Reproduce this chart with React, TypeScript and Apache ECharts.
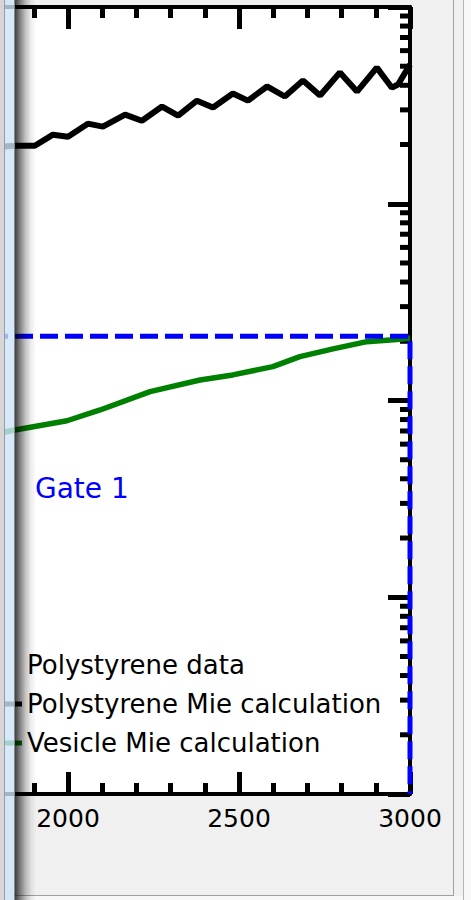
import React, { useEffect, useRef } from "react";
import * as echarts from "echarts";

// Polystyrene Mie calculation (black, oscillating)
const polyMieX = [1800, 1845, 1903, 1956, 2000, 2058, 2102, 2167, 2216, 2275, 2322, 2377, 2424, 2482, 2526, 2582, 2634, 2687, 2737, 2795, 2845, 2903, 2947, 2965, 3000];
const polyMieY = [1950, 1972, 1972, 2244, 2193, 2553, 2466, 2838, 2642, 3119, 2805, 3342, 3083, 3631, 3342, 3945, 3508, 4227, 3548, 4645, 3715, 4920, 3890, 4036, 5093];

// Vesicle Mie calculation (green)
const vesicleX = [1800, 1845, 1997, 2094, 2240, 2386, 2482, 2599, 2678, 2775, 2874, 2971, 3000];
const vesicleY = [68.4, 70.8, 78.9, 89.5, 110.9, 127.1, 134.9, 148.6, 167.1, 182.9, 199.1, 204.9, 208];

// Polystyrene measurements: none fall inside this window
const polyDataX: number[] = [];
const polyDataY: number[] = [];

// Gate 1 threshold and its right-hand limit
const gateLevel = 212;
const gateX = 3000;

// Axis ranges
const xMin = 1500;
const xMax = 3000;
const xStep = 500;
const xFirstLabel = 2000;
const yMin = 1;
const yMax = 10000;
const decades = [1, 10, 100, 1000];
const minorMultipliers = [2, 3, 4, 5, 6, 7, 8, 9];

const legendNames = ["Polystyrene data", "Polystyrene Mie calculation", "Vesicle Mie calculation"];

const S = 103; // part of the chart that sits left of the visible window
const W = 471 + S;
const H = 900;
const FONT = "DejaVu Sans";

export default function App() {
  const ref = useRef<HTMLDivElement>(null);

  useEffect(() => {
    if (!ref.current) return;
    const chart = echarts.init(ref.current, undefined, { renderer: "svg" });
    const vx = (x: number) => x + S;
    const minorTickValues = decades.flatMap((d) => minorMultipliers.map((k) => k * d));

    const xAxisBase = {
      type: "value",
      min: xMin,
      max: xMax,
      interval: xStep,
      axisLine: { show: true, onZero: false, lineStyle: { color: "#000", width: 4 } },
      axisTick: { show: true, inside: true, length: 22, lineStyle: { color: "#000", width: 5 } },
      minorTick: { show: true, splitNumber: 5, length: 11, lineStyle: { color: "#000", width: 5 } },
      splitLine: { show: false },
      minorSplitLine: { show: false },
    };

    const option: any = {
      animation: false,
      backgroundColor: "#f0f0f0",
      grid: {
        left: 0,
        right: W - (410 + S),
        top: 7,
        bottom: H - 794,
        containLabel: false,
        outerBoundsMode: "none",
        show: true,
        backgroundColor: "#ffffff",
        borderWidth: 0,
      },
      xAxis: [
        {
          ...xAxisBase,
          position: "bottom",
          axisLabel: {
            show: true,
            fontFamily: FONT,
            fontSize: 25,
            color: "#000",
            margin: 12,
            formatter: (v: number) => (v < xFirstLabel ? "" : String(v)),
          },
        },
        {
          ...xAxisBase,
          position: "top",
          axisLabel: { show: false },
        },
      ],
      yAxis: {
        type: "log",
        logBase: 10,
        min: yMin,
        max: yMax,
        position: "right",
        axisLine: { show: true, onZero: false, lineStyle: { color: "#000", width: 4 } },
        axisTick: { show: true, inside: true, length: 22, lineStyle: { color: "#000", width: 5 } },
        axisLabel: { show: false },
        splitLine: { show: false },
      },
      legend: {
        orient: "vertical",
        left: S - 8,
        top: 652,
        padding: 0,
        itemWidth: 30,
        itemHeight: 5,
        itemGap: 13,
        selectedMode: false,
        textStyle: { fontFamily: FONT, fontSize: 26, color: "#000" },
        data: [
          { name: legendNames[0], icon: "rect", itemStyle: { opacity: 0 } },
          { name: legendNames[1], icon: "rect" },
          { name: legendNames[2], icon: "rect" },
        ],
      },
      series: [
        {
          name: legendNames[0],
          type: "scatter",
          data: polyDataX.map((x, i) => [x, polyDataY[i]]),
          itemStyle: { color: "#000" },
        },
        {
          name: "logMinorTicks",
          type: "custom",
          silent: true,
          clip: false,
          data: minorTickValues.map((v) => [xMax, v]),
          renderItem: (_params: any, api: any) => {
            const p = api.coord([api.value(0), api.value(1)]);
            return {
              type: "line",
              shape: { x1: p[0] - 10, y1: p[1], x2: p[0], y2: p[1] },
              style: { stroke: "#000", lineWidth: 5 },
            };
          },
        },
        {
          name: legendNames[2],
          type: "line",
          symbol: "none",
          data: vesicleX.map((x, i) => [x, vesicleY[i]]),
          lineStyle: { color: "#008000", width: 5.5 },
          itemStyle: { color: "#008000" },
        },
        {
          name: legendNames[1],
          type: "line",
          symbol: "none",
          data: polyMieX.map((x, i) => [x, polyMieY[i]]),
          lineStyle: { color: "#000", width: 6 },
          itemStyle: { color: "#000" },
        },
        {
          name: "Gate 1",
          type: "line",
          symbol: "none",
          clip: false,
          data: [
            [xMin, gateLevel],
            [gateX, gateLevel],
            [gateX, yMin],
          ],
          lineStyle: { color: "#0000ff", width: 5, type: [18, 7], dashOffset: 7 },
          itemStyle: { color: "#0000ff" },
        },
      ],
      graphic: [
        {
          type: "text",
          x: vx(35),
          y: 488,
          z: 50,
          style: { text: "Gate 1", fontFamily: FONT, fontSize: 28, fill: "#0000ff", verticalAlign: "middle" },
        },
        // window frame on the right and bottom
        { type: "rect", z: 100, shape: { x: vx(453), y: 0, width: 1, height: 896 }, style: { fill: "#a0a0a0" } },
        { type: "rect", z: 100, shape: { x: vx(463), y: 0, width: 1, height: 900 }, style: { fill: "#b4b4b4" } },
        { type: "rect", z: 100, shape: { x: vx(464), y: 0, width: 7, height: 900 }, style: { fill: "#f8f8f8" } },
        { type: "rect", z: 100, shape: { x: vx(15), y: 895, width: 439, height: 1 }, style: { fill: "#a0a0a0" } },
        { type: "rect", z: 100, shape: { x: vx(15), y: 896, width: 448, height: 4 }, style: { fill: "#f8f8f8" } },
        // window frame on the left
        { type: "rect", z: 100, shape: { x: vx(0), y: 0, width: 4, height: 900 }, style: { fill: "#d6d6d6" } },
        { type: "rect", z: 100, shape: { x: vx(4), y: 0, width: 1, height: 900 }, style: { fill: "#9c9c9c" } },
        { type: "rect", z: 100, shape: { x: vx(5), y: 0, width: 9, height: 900 }, style: { fill: "rgba(204,227,250,0.8)" } },
        { type: "rect", z: 100, shape: { x: vx(14), y: 0, width: 1, height: 900 }, style: { fill: "#8a8a8a" } },
        {
          type: "rect",
          z: 100,
          shape: { x: vx(15), y: 0, width: 21, height: 900 },
          style: {
            fill: new echarts.graphic.LinearGradient(0, 0, 1, 0, [
              { offset: 0, color: "rgba(0,0,0,0.75)" },
              { offset: 0.25, color: "rgba(0,0,0,0.48)" },
              { offset: 0.5, color: "rgba(0,0,0,0.24)" },
              { offset: 0.75, color: "rgba(0,0,0,0.08)" },
              { offset: 1, color: "rgba(0,0,0,0)" },
            ]),
          },
        },
      ],
    };

    chart.setOption(option);
    return () => chart.dispose();
  }, []);

  return (
    <div
      ref={ref}
      style={{ position: "absolute", left: -S, top: 0, width: W, height: H }}
    />
  );
}
